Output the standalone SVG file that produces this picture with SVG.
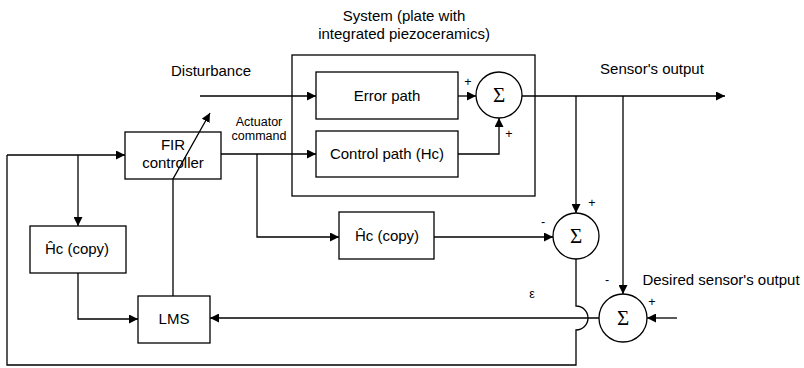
<svg xmlns="http://www.w3.org/2000/svg" width="804" height="368" viewBox="0 0 804 368">
<defs>
<marker id="arr" viewBox="0 0 10 10" refX="10" refY="5" markerWidth="9" markerHeight="9" markerUnits="userSpaceOnUse" orient="auto"><path d="M0,0 L10,5 L0,10 Z" fill="#000"/></marker>
<style>
.b{fill:#fff;stroke:#000;stroke-width:1.3}
.l{fill:none;stroke:#000;stroke-width:1.3}
.t{font-family:"Liberation Sans",Arial,sans-serif;font-size:15px;fill:#000}
.s{font-family:"Liberation Sans",Arial,sans-serif;font-size:12.5px;fill:#000}
.g{font-family:"Liberation Serif","Times New Roman",serif;font-size:21px;fill:#000}
</style>
</defs>
<rect width="804" height="368" fill="#fff"/>
<g id="system">
<rect class="b" x="292" y="55" width="243" height="141" fill="none"/>
<text class="t" x="404" y="21" text-anchor="middle">System (plate with</text>
<text class="t" x="404" y="39" text-anchor="middle">integrated piezoceramics)</text>
</g>
<g id="error-path"><rect class="b" x="316" y="72" width="142" height="47"/><text class="t" x="387" y="101" text-anchor="middle">Error path</text></g>
<g id="control-path"><rect class="b" x="316" y="131" width="142" height="46"/><text class="t" x="387" y="159" text-anchor="middle">Control path (Hc)</text></g>
<g id="sum1"><circle class="b" cx="499" cy="95" r="23"/><text class="g" x="499" y="102" text-anchor="middle">Σ</text></g>
<g id="fir"><rect class="b" x="125" y="132" width="96" height="47"/><text class="t" x="173" y="150" text-anchor="middle">FIR</text><text class="t" x="173" y="168" text-anchor="middle">controller</text></g>
<g id="hc1"><rect class="b" x="30" y="226" width="96" height="47"/><text class="t" x="77" y="254" text-anchor="middle">Ĥc (copy)</text></g>
<g id="hc2"><rect class="b" x="339" y="212" width="95" height="47"/><text class="t" x="387" y="241" text-anchor="middle">Ĥc (copy)</text></g>
<g id="lms"><rect class="b" x="138" y="296" width="72" height="47"/><text class="t" x="174" y="324" text-anchor="middle">LMS</text></g>
<g id="sum2"><circle class="b" cx="576" cy="236" r="23"/><text class="g" x="576" y="243" text-anchor="middle">Σ</text></g>
<g id="sum3"><circle class="b" cx="623" cy="318" r="24"/><text class="g" x="623" y="325" text-anchor="middle">Σ</text></g>
<g id="connectors">
<path class="l" d="M200,96 H316" marker-end="url(#arr)"/>
<path class="l" d="M458,96 H476" marker-end="url(#arr)"/>
<path class="l" d="M458,154 H499 V118" marker-end="url(#arr)"/>
<path class="l" d="M522,96 H725" marker-end="url(#arr)"/>
<path class="l" d="M576,96 V213" marker-end="url(#arr)"/>
<path class="l" d="M623,96 V294" marker-end="url(#arr)"/>
<path class="l" d="M221,154 H316" marker-end="url(#arr)"/>
<path class="l" d="M257,154 V237 H339" marker-end="url(#arr)"/>
<path class="l" d="M434,237 H553" marker-end="url(#arr)"/>
<path class="l" d="M677,318 H647" marker-end="url(#arr)"/>
<path class="l" d="M599,318 H210" marker-end="url(#arr)"/>
<path class="l" d="M7,155 H125" marker-end="url(#arr)"/>
<path class="l" d="M78,155 V226" marker-end="url(#arr)"/>
<path class="l" d="M78,273 V319 H138" marker-end="url(#arr)"/>
<path class="l" d="M173,296 V179 L210,113" marker-end="url(#arr)"/>
<path class="l" d="M576,259 V306 A12,12 0 0 1 576,330 V365 H7 V155"/>
</g>
<g id="labels">
<text class="t" x="211" y="76" text-anchor="middle">Disturbance</text>
<text class="s" x="259" y="126" text-anchor="middle">Actuator</text>
<text class="s" x="259" y="140" text-anchor="middle">command</text>
<text class="t" x="652" y="74" text-anchor="middle">Sensor's output</text>
<text class="t" x="721" y="285" text-anchor="middle">Desired sensor's output</text>
<text class="s" x="468" y="86" text-anchor="middle">+</text>
<text class="s" x="509" y="138" text-anchor="middle">+</text>
<text class="s" x="592" y="207" text-anchor="middle">+</text>
<text class="s" x="543" y="226" text-anchor="middle">-</text>
<text class="s" x="607" y="284" text-anchor="middle">-</text>
<text class="s" x="652" y="306" text-anchor="middle">+</text>
<text class="s" x="532" y="298" text-anchor="middle">ε</text>
</g>
</svg>
